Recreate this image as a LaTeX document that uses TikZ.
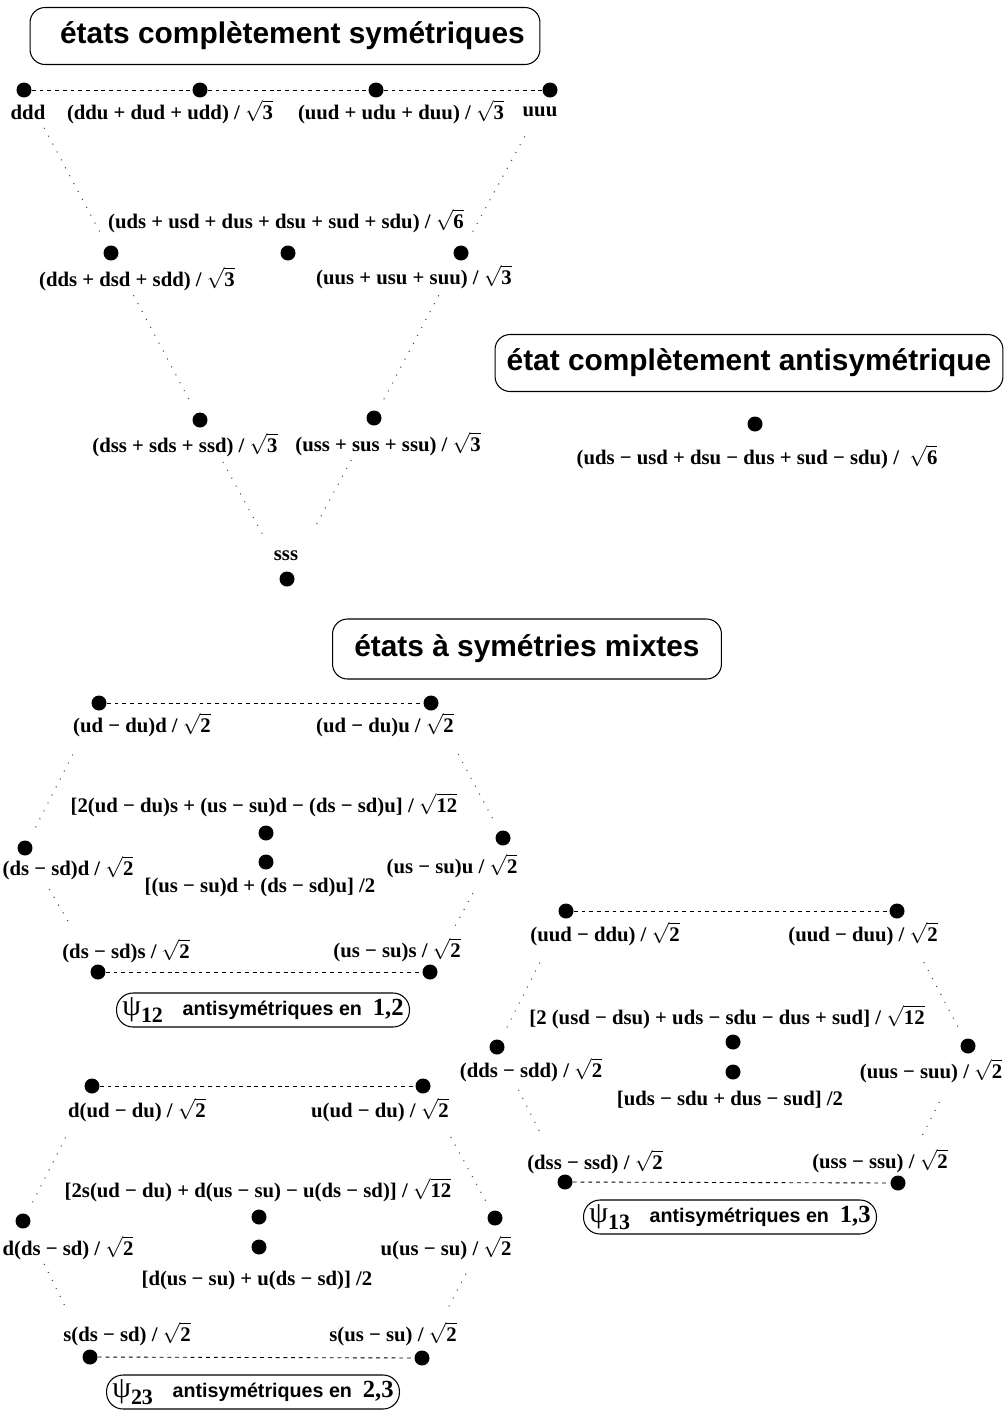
\documentclass[tikz,border=0pt]{standalone}
\usepackage{fontspec}
\setmainfont{Liberation Serif}
\setsansfont{Liberation Sans}

\newcommand\rt[1]{$\sqrt{\mbox{#1}}$}
\newcommand\psilabel[1]{{\rmfamily\mdseries\fontsize{17}{17}\selectfont ψ}\raisebox{-0.6ex}{\rmfamily\bfseries\fontsize{12.5}{12}\selectfont #1}}

\tikzset{
  state/.style={
    circle, fill=black, inner sep=0pt, minimum size=0.3cm
  },
  formula/.style={
    inner sep=0pt, font=\bfseries\fontsize{11.8}{14}\selectfont
  },
  titlebox/.style={
    draw=black, rounded corners=0.3cm, line width=0.6pt,
    minimum height=1.14cm, align=center, inner sep=0pt,
    font=\sffamily\bfseries\fontsize{17}{19}\selectfont
  },
  tagbox/.style={
    draw=black, rounded corners=0.33cm, line width=0.6pt,
    minimum width=5.86cm, minimum height=0.68cm, inner sep=0pt,
    font=\sffamily\bfseries\fontsize{11.2}{12}\selectfont
  },
  rowline/.style={
    dash pattern=on 2.2pt off 2.2pt, line width=0.5pt
  },
  sideline/.style={
    dash pattern=on 0.6pt off 4.5pt, line width=0.6pt, black!70
  },
}

\begin{document}
\begin{tikzpicture}[x=0.02cm, y=-0.02cm]

\useasboundingbox (0,0) rectangle (1005,1410);

%% Completely symmetric states
\node[titlebox, minimum width=10.2cm] (tsym) at (285,36)
  {\hspace*{0.3cm}états complètement symétriques};

\node[state] (ddd) at (24,90) {};
\node[state] (ddu) at (200,90) {};
\node[state] (uud) at (376,90) {};
\node[state] (uuu) at (550,90) {};
\node[state] (dds) at (111,253) {};
\node[state] (uds) at (288,253) {};
\node[state] (uus) at (461,253) {};
\node[state] (dss) at (200,420) {};
\node[state] (uss) at (374,418) {};
\node[state] (sss) at (287,579) {};

\node[formula] (l-ddd) at (28,112) {ddd};
\node[formula] (l-ddu) at (170,112) {(ddu + dud + udd) / \rt{3}};
\node[formula] (l-uud) at (401,112) {(uud + udu + duu) / \rt{3}};
\node[formula] (l-uuu) at (540,112) {uuu};
\node[formula] (l-uds) at (286,221) {(uds + usd + dus + dsu + sud + sdu) / \rt{6}};
\node[formula] (l-dds) at (137,279) {(dds + dsd + sdd) / \rt{3}};
\node[formula] (l-uus) at (414,277) {(uus + usu + suu) / \rt{3}};
\node[formula] (l-dss) at (185,445) {(dss + sds + ssd) / \rt{3}};
\node[formula] (l-uss) at (388,444) {(uss + sus + ssu) / \rt{3}};
\node[formula] (l-sss) at (286,556) {sss};

\draw[rowline] (ddd) -- (ddu) -- (uud) -- (uuu);
\draw[sideline, shorten <=0.7cm, shorten >=0.22cm] (ddd) -- (dds);
\draw[sideline, shorten <=0.9cm, shorten >=0.22cm] (uuu) -- (uus);
\draw[sideline, shorten <=0.8cm, shorten >=0.22cm] (dds) -- (dss);
\draw[sideline, shorten <=0.8cm, shorten >=0.22cm] (uus) -- (uss);
\draw[sideline, shorten <=0.8cm, shorten >=0.8cm] (dss) -- (sss);
\draw[sideline, shorten <=0.8cm, shorten >=1cm] (uss) -- (sss);

%% Completely antisymmetric state
\node[titlebox, minimum width=10.16cm] (tanti) at (749,363)
  {état complètement antisymétrique};
\node[state] (singlet) at (755,424) {};
\node[formula] (l-singlet) at (757,457)
  {(uds − usd + dsu − dus + sud − sdu) / \ \rt{6}};

%% Mixed symmetry states
\node[titlebox, minimum width=7.78cm, minimum height=1.2cm] (tmix) at (527,649)
  {états à symétries mixtes};

%% psi_12
\node[state] (a-tl) at (99,703) {};
\node[state] (a-tr) at (431,703) {};
\node[state] (a-l) at (25,848) {};
\node[state] (a-r) at (503,838) {};
\node[state] (a-bl) at (98,972) {};
\node[state] (a-br) at (430,972) {};
\node[state] (a-c1) at (266,833) {};
\node[state] (a-c2) at (266,862) {};

\node[formula] at (142,725) {(ud − du)d / \rt{2}};
\node[formula] at (385,725) {(ud − du)u / \rt{2}};
\node[formula] at (264,805) {[2(ud − du)s + (us − su)d − (ds − sd)u] / \rt{12}};
\node[formula] at (68,868) {(ds − sd)d / \rt{2}};
\node[formula] at (452,866) {(us − su)u / \rt{2}};
\node[formula] at (260,888) {[(us − su)d + (ds − sd)u] /2};
\node[formula] at (126,951) {(ds − sd)s / \rt{2}};
\node[formula] at (397,950) {(us − su)s / \rt{2}};

\draw[rowline] (a-tl) -- (a-tr);
\draw[rowline] (a-bl) -- (a-br);
\draw[sideline, shorten <=1cm, shorten >=0.22cm] (a-tl) -- (a-l);
\draw[sideline, shorten <=1cm, shorten >=0.22cm] (a-tr) -- (a-r);
\draw[sideline, shorten <=0.8cm, shorten >=0.9cm] (a-l) -- (a-bl);
\draw[sideline, shorten <=1.1cm, shorten >=0.9cm] (a-r) -- (a-br);

\node[tagbox] (tag12) at (263,1010)
  {\psilabel{12}\quad antisymétriques en \ {\rmfamily\fontsize{14}{14}\selectfont 1,2}};

%% psi_13
\node[state] (b-tl) at (566,911) {};
\node[state] (b-tr) at (897,911) {};
\node[state] (b-l) at (497,1047) {};
\node[state] (b-r) at (968,1046) {};
\node[state] (b-bl) at (565,1182) {};
\node[state] (b-br) at (898,1183) {};
\node[state] (b-c1) at (733,1042) {};
\node[state] (b-c2) at (733,1072) {};

\node[formula] at (605,934) {(uud − ddu) / \rt{2}};
\node[formula] at (863,934) {(uud − duu) / \rt{2}};
\node[formula] at (727,1017) {[2 (usd − dsu) + uds − sdu − dus + sud] / \rt{12}};
\node[formula] at (531,1070) {(dds − sdd) / \rt{2}};
\node[formula] at (931,1071) {(uus − suu) / \rt{2}};
\node[formula] at (730,1100) {[uds − sdu + dus − sud] /2};
\node[formula] at (595,1162) {(dss − ssd) / \rt{2}};
\node[formula] at (880,1161) {(uss − ssu) / \rt{2}};

\draw[rowline] (b-tl) -- (b-tr);
\draw[rowline] (b-bl) -- (b-br);
\draw[sideline, shorten <=1cm, shorten >=0.22cm] (b-tl) -- (b-l);
\draw[sideline, shorten <=1cm, shorten >=0.22cm] (b-tr) -- (b-r);
\draw[sideline, shorten <=0.8cm, shorten >=0.9cm] (b-l) -- (b-bl);
\draw[sideline, shorten <=1.1cm, shorten >=0.9cm] (b-r) -- (b-br);

\node[tagbox] (tag13) at (730,1217)
  {\psilabel{13}\quad antisymétriques en \ {\rmfamily\fontsize{14}{14}\selectfont 1,3}};

%% psi_23
\node[state] (c-tl) at (92,1086) {};
\node[state] (c-tr) at (423,1086) {};
\node[state] (c-l) at (23,1221) {};
\node[state] (c-r) at (495,1218) {};
\node[state] (c-bl) at (90,1357) {};
\node[state] (c-br) at (422,1358) {};
\node[state] (c-c1) at (259,1217) {};
\node[state] (c-c2) at (259,1247) {};

\node[formula] at (137,1110) {d(ud − du) / \rt{2}};
\node[formula] at (380,1110) {u(ud − du) / \rt{2}};
\node[formula] at (258,1190) {[2s(ud − du) + d(us − su) − u(ds − sd)] / \rt{12}};
\node[formula] at (68,1248) {d(ds − sd) / \rt{2}};
\node[formula] at (446,1248) {u(us − su) / \rt{2}};
\node[formula] at (257,1280) {[d(us − su) + u(ds − sd)] /2};
\node[formula] at (127,1334) {s(ds − sd) / \rt{2}};
\node[formula] at (393,1334) {s(us − su) / \rt{2}};

\draw[rowline] (c-tl) -- (c-tr);
\draw[rowline] (c-bl) -- (c-br);
\draw[sideline, shorten <=1cm, shorten >=0.22cm] (c-tl) -- (c-l);
\draw[sideline, shorten <=1cm, shorten >=0.22cm] (c-tr) -- (c-r);
\draw[sideline, shorten <=0.8cm, shorten >=0.9cm] (c-l) -- (c-bl);
\draw[sideline, shorten <=1.1cm, shorten >=0.9cm] (c-r) -- (c-br);

\node[tagbox] (tag23) at (253,1392)
  {\psilabel{23}\quad antisymétriques en \ {\rmfamily\fontsize{14}{14}\selectfont 2,3}};

\end{tikzpicture}
\end{document}
